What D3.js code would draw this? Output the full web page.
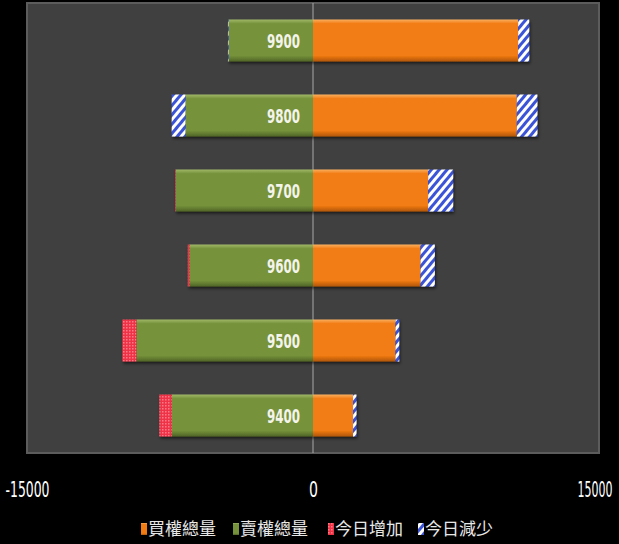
<!DOCTYPE html>
<html>
<head>
<meta charset="utf-8">
<script src="https://cdnjs.cloudflare.com/ajax/libs/d3/7.8.5/d3.min.js"></script>
<style>
	body { margin: 0; background: #000; }
	svg { display: block; }
</style>
</head>
<body>
<div id="chart"></div>
<script>
let WIDTH = 619;
let HEIGHT = 544;

// strike prices, top to bottom
let strikes = ['9900', '9800', '9700', '9600', '9500', '9400'];
// right side (calls)
let callTotal = [10760, 10690, 6040, 5640, 4330, 2100];
let callAdd = [0, 0, 0, 0, 0, 0];
let callSub = [580, 1080, 1310, 750, 190, 180];
// left side (puts)
let putTotal = [4430, 6690, 7200, 6480, 9260, 7410];
let putAdd = [0, 0, 30, 90, 740, 650];
let putSub = [30, 720, 0, 0, 0, 0];

let xTicks = [-15000, 0, 15000];
let legendLabels = ['買權總量', '賣權總量', '今日增加', '今日減少'];

let plot = {left: 27, right: 599, top: 3, bottom: 453};
let NARROW = '"Liberation Sans Narrow", "DejaVu Sans Condensed", Roboto, sans-serif';

let svg = d3.select('#chart').append('svg')
	.attr('width', WIDTH)
	.attr('height', HEIGHT);

let defs = svg.append('defs');

let bevel = (id, light, main, dark) => {
	let g = defs.append('linearGradient')
		.attr('id', id)
		.attr('x1', 0).attr('y1', 0).attr('x2', 0).attr('y2', 1);
	g.append('stop').attr('offset', '0%').attr('stop-color', light);
	g.append('stop').attr('offset', '10%').attr('stop-color', main);
	g.append('stop').attr('offset', '86%').attr('stop-color', main);
	g.append('stop').attr('offset', '100%').attr('stop-color', dark);
};
bevel('gOrange', '#fbb060', '#f27b13', '#b05506');
bevel('gGreen', '#a0b868', '#76923a', '#4f6426');

let blue = defs.append('pattern')
	.attr('id', 'pBlue')
	.attr('width', 6).attr('height', 6)
	.attr('patternUnits', 'userSpaceOnUse')
	.attr('patternTransform', 'rotate(40)');
blue.append('rect').attr('width', 6).attr('height', 6).attr('fill', '#ffffff');
blue.append('rect').attr('width', 3).attr('height', 6).attr('fill', '#3a52d6');

let red = defs.append('pattern')
	.attr('id', 'pRed')
	.attr('width', 3).attr('height', 3)
	.attr('patternUnits', 'userSpaceOnUse');
red.append('rect').attr('width', 3).attr('height', 3).attr('fill', '#ee3346');
red.append('rect').attr('width', 1.5).attr('height', 1.5).attr('fill', '#ff7a86');

let shadow = defs.append('filter').attr('id', 'shadow')
	.attr('x', '-5%').attr('y', '-10%').attr('width', '110%').attr('height', '130%');
shadow.append('feDropShadow')
	.attr('dx', 1).attr('dy', 2).attr('stdDeviation', 1.5)
	.attr('flood-color', '#000').attr('flood-opacity', 0.6);

// plot area
svg.append('rect')
	.attr('x', plot.left).attr('y', plot.top)
	.attr('width', plot.right - plot.left)
	.attr('height', plot.bottom - plot.top)
	.attr('fill', '#404040')
	.attr('stroke', '#5c5c5c')
	.attr('stroke-width', 2);

let x = d3.scaleLinear()
	.domain([-15000, 15000])
	.range([plot.left, plot.right]);

let y = d3.scaleBand()
	.domain(strikes)
	.range([plot.top, plot.bottom])
	.paddingInner(0.44)
	.paddingOuter(0.22);

svg.append('line')
	.attr('x1', x(0)).attr('x2', x(0))
	.attr('y1', plot.top).attr('y2', plot.bottom)
	.attr('stroke', '#a8a8a8')
	.attr('stroke-width', 1);

// build segments for each strike
let segs = [];
strikes.forEach((s, i) => {
	let r = 0;
	[[callTotal[i], 'url(#gOrange)'], [callAdd[i], 'url(#pRed)'], [callSub[i], 'url(#pBlue)']].forEach(([v, f]) => {
		if (v > 0) segs.push({s: s, x0: r, x1: r + v, fill: f});
		r += v;
	});
	let l = 0;
	[[putTotal[i], 'url(#gGreen)'], [putAdd[i], 'url(#pRed)'], [putSub[i], 'url(#pBlue)']].forEach(([v, f]) => {
		if (v > 0) segs.push({s: s, x0: -(l + v), x1: -l, fill: f});
		l += v;
	});
});

let bars = svg.append('g').attr('filter', 'url(#shadow)');
bars.selectAll('rect')
	.data(segs)
	.enter().append('rect')
	.attr('x', d => x(d.x0))
	.attr('width', d => x(d.x1) - x(d.x0))
	.attr('y', d => y(d.s))
	.attr('height', y.bandwidth())
	.attr('fill', d => d.fill);

svg.append('g').selectAll('text')
	.data(strikes)
	.enter().append('text')
	.attr('x', x(0) - 13)
	.attr('y', d => y(d) + y.bandwidth() / 2)
	.attr('dy', '0.36em')
	.attr('text-anchor', 'end')
	.attr('fill', '#f4f4ea')
	.attr('textLength', 33)
	.attr('lengthAdjust', 'spacingAndGlyphs')
	.style('font-family', NARROW)
	.style('font-weight', 'bold')
	.style('font-size', '20px')
	.text(d => d);

let axis = svg.append('g')
	.attr('transform', `translate(0,${plot.bottom})`)
	.call(d3.axisBottom(x).tickValues(xTicks).tickSize(0).tickPadding(28).tickFormat(d => String(d)));
axis.select('.domain').remove();
axis.selectAll('text')
	.attr('fill', '#ffffff')
	.attr('text-anchor', d => d > 0 ? 'end' : 'middle')
	.style('font-family', NARROW)
	.style('font-size', '22px')
	.each(function(d) {
		// squeeze to the narrow width of the original labels
		let target = d === 0 ? 9 : (d < 0 ? 44 : 35);
		let s = target / this.getComputedTextLength();
		let dx = d > 0 ? 13 : 0;
		d3.select(this)
			.attr('x', null)
			.attr('transform', `translate(${dx},0) scale(${s},1)`);
	});

// legend
let legendX = [141, 233, 328, 418];
let legendFill = ['url(#gOrange)', 'url(#gGreen)', 'url(#pRed)', 'url(#pBlue)'];
let legend = svg.append('g').selectAll('g')
	.data(legendLabels)
	.enter().append('g')
	.attr('transform', (d, i) => `translate(${legendX[i]},529)`);
legend.append('rect')
	.attr('x', 0).attr('y', -6)
	.attr('width', 6).attr('height', 12)
	.attr('fill', (d, i) => legendFill[i]);
legend.append('text')
	.attr('x', 7)
	.attr('dy', '0.36em')
	.attr('fill', '#e8e8e8')
	.style('font-family', '"Noto Sans CJK TC", sans-serif')
	.style('font-size', '17px')
	.text(d => d);
</script>
</body>
</html>
